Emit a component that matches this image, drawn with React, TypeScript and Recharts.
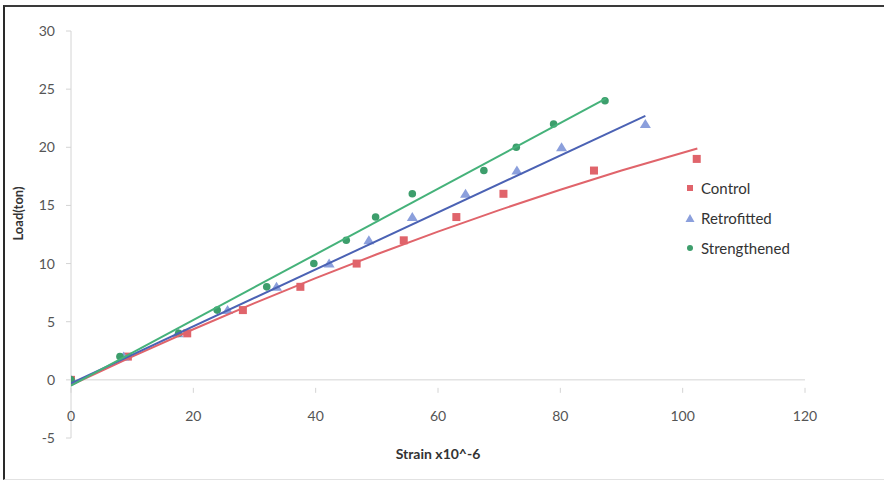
import React from 'react';
import { ScatterChart, Scatter, XAxis, YAxis, ReferenceLine } from 'recharts';

// Measured data points (strain x10^-6, load in ton)
const controlX = [0, 9.3, 19, 28.1, 37.5, 46.7, 54.4, 63, 70.7, 85.5, 102.3];
const controlY = [0, 2, 4, 6, 8, 10, 12, 14, 16, 18, 19];
const retroX = [0, 8.6, 17.5, 25.6, 33.6, 42.2, 48.7, 55.8, 64.5, 72.9, 80.2, 93.9];
const retroY = [0, 2, 4, 6, 8, 10, 12, 14, 16, 18, 20, 22];
const strengthX = [0, 8, 17.6, 23.9, 32, 39.7, 45, 49.8, 55.8, 67.5, 72.8, 78.9, 87.3];
const strengthY = [0, 2, 4, 6, 8, 10, 12, 14, 16, 18, 20, 22, 24];

// Trendlines
const controlTrendX = [0, 10, 20, 30, 40, 50, 60, 70, 80, 90, 102.4];
const controlTrendY = [-0.45, 2.0, 4.35, 6.6, 8.75, 10.8, 12.75, 14.6, 16.35, 18.0, 19.9];
const retroTrendX = [0, 93.9];
const retroTrendY = [-0.3, 22.7];
const strengthTrendX = [0, 87.5];
const strengthTrendY = [-0.5, 24.2];

const xTicks = [0, 20, 40, 60, 80, 100, 120];
const yTicks = [-5, 0, 5, 10, 15, 20, 25, 30];

const zip = (xs: number[], ys: number[]) => xs.map((x, i) => ({ x, y: ys[i] }));

const controlData = zip(controlX, controlY);
const retroData = zip(retroX, retroY);
const strengthData = zip(strengthX, strengthY);
const controlTrend = zip(controlTrendX, controlTrendY);
const retroTrend = zip(retroTrendX, retroTrendY);
const strengthTrend = zip(strengthTrendX, strengthTrendY);

const RED = '#e0646b';
const BLUE_M = '#8b9fdc';
const BLUE_L = '#4b62b4';
const GREEN_M = '#3d9e6c';
const GREEN_L = '#45b27a';
const AXIS = '#d4d4d4';
const TXT = '#555555';
const FONT = 'Lato, "Open Sans", sans-serif';

const W = 884;
const H = 482;
const M = { top: 31, right: 79, left: 0, bottom: 14 };
const X_AXIS_H = 30;
const PLOT_H = H - M.top - M.bottom - X_AXIS_H;
const Y_MIN = -5;
const Y_MAX = 30;
const ZERO_OFFSET = (PLOT_H * (0 - Y_MIN)) / (Y_MAX - Y_MIN);

const XTick = (props: any) => {
  const { x, y, payload } = props;
  const y0 = y - ZERO_OFFSET;
  return (
    <g>
      <line x1={x} x2={x} y1={y0} y2={y0 + 5} stroke={AXIS} strokeWidth={1} />
      <text x={x} y={y0 + 28} textAnchor="middle" dominantBaseline="central" fill={TXT} fontSize={14} fontFamily={FONT}>
        {payload.value}
      </text>
    </g>
  );
};

const SquareShape = (p: any) => <rect x={p.cx - 4} y={p.cy - 4} width={8} height={8} fill={RED} />;
const TriShape = (p: any) => (
  <polygon points={`${p.cx},${p.cy - 5} ${p.cx - 5.5},${p.cy + 4} ${p.cx + 5.5},${p.cy + 4}`} fill={BLUE_M} />
);
const CircShape = (p: any) => <circle cx={p.cx} cy={p.cy} r={3.8} fill={GREEN_M} />;
const NoShape = () => <g />;

const legendItems = [
  { name: 'Control', kind: 'square', color: RED },
  { name: 'Retrofitted', kind: 'tri', color: BLUE_M },
  { name: 'Strengthened', kind: 'circle', color: GREEN_M },
];

const LegendBox = () => (
  <div style={{ position: 'absolute', left: 684, top: 173, fontFamily: FONT, fontSize: 15, color: '#333' }}>
    {legendItems.map((it) => (
      <div key={it.name} style={{ height: 30, display: 'flex', alignItems: 'center' }}>
        <svg width={14} height={10} style={{ marginRight: 3 }}>
          {it.kind === 'square' && <rect x={3} y={2} width={6} height={6} fill={it.color} />}
          {it.kind === 'tri' && <polygon points="6,1 1.5,9 10.5,9" fill={it.color} />}
          {it.kind === 'circle' && <circle cx={6} cy={5} r={3} fill={it.color} />}
        </svg>
        <span>{it.name}</span>
      </div>
    ))}
  </div>
);

export default function App() {
  return (
    <div style={{ position: 'absolute', left: 0, top: 0, width: W, height: H, background: '#fff', overflow: 'hidden' }}>
      <div
        style={{
          position: 'absolute',
          left: 3,
          top: 5,
          width: W,
          height: 472,
          borderLeft: '2px solid #2a2a2a',
          borderTop: '2px solid #3a3a3a',
          borderBottom: '1px solid #e2e2e2',
        }}
      />
      <ScatterChart width={W} height={H} margin={M} style={{ position: 'absolute', left: 0, top: 0 }}>
        <XAxis
          type="number"
          dataKey="x"
          domain={[0, 120]}
          ticks={xTicks}
          axisLine={false}
          tickLine={false}
          height={X_AXIS_H}
          tick={<XTick />}
          interval={0}
          allowDataOverflow
          label={(lp: any) => {
            const vb = lp.viewBox || {};
            return (
              <text
                x={vb.x + vb.width / 2}
                y={vb.y + 15}
                textAnchor="middle"
                dominantBaseline="central"
                fontFamily={FONT}
                fontWeight="bold"
                fontSize={14}
                fill="#333"
              >
                Strain x10^-6
              </text>
            );
          }}
        />
        <YAxis
          type="number"
          dataKey="y"
          domain={[Y_MIN, Y_MAX]}
          ticks={yTicks}
          width={71}
          interval={0}
          allowDataOverflow
          axisLine={{ stroke: AXIS }}
          tickLine={{ stroke: AXIS }}
          tickSize={5}
          tickMargin={11}
          tick={{ fill: TXT, fontSize: 14, fontFamily: FONT }}
          label={(lp: any) => {
            const vb = lp.viewBox || {};
            const cx = vb.x + 18;
            const cy = vb.y + vb.height / 2 - 21;
            return (
              <text
                x={cx}
                y={cy}
                transform={`rotate(-90, ${cx}, ${cy})`}
                textAnchor="middle"
                dominantBaseline="central"
                fontFamily={FONT}
                fontWeight="bold"
                fontSize={13}
                fill="#333"
              >
                Load(ton)
              </text>
            );
          }}
        />
        <ReferenceLine y={0} stroke={AXIS} strokeWidth={1} ifOverflow="extendDomain" />
        <Scatter name="Control" data={controlData} shape={SquareShape} isAnimationActive={false} />
        <Scatter name="Retrofitted" data={retroData} shape={TriShape} isAnimationActive={false} />
        <Scatter name="Strengthened" data={strengthData} shape={CircShape} isAnimationActive={false} />
        <Scatter
          name="Control trend"
          data={controlTrend}
          shape={NoShape}
          line={{ stroke: RED, strokeWidth: 2 }}
          isAnimationActive={false}
        />
        <Scatter
          name="Retrofitted trend"
          data={retroTrend}
          shape={NoShape}
          line={{ stroke: BLUE_L, strokeWidth: 2 }}
          isAnimationActive={false}
        />
        <Scatter
          name="Strengthened trend"
          data={strengthTrend}
          shape={NoShape}
          line={{ stroke: GREEN_L, strokeWidth: 2 }}
          isAnimationActive={false}
        />
      </ScatterChart>
      <LegendBox />
    </div>
  );
}
